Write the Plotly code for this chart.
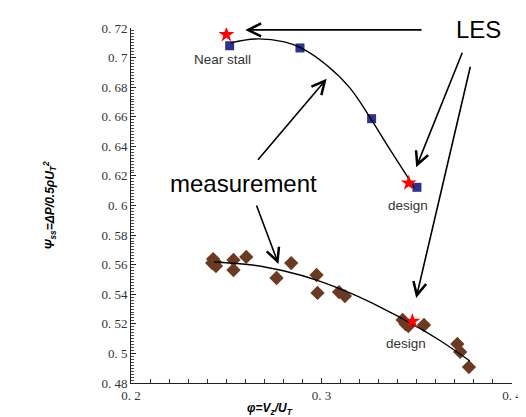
import plotly.graph_objects as go

# LES results (squares)
les_x = [0.2518, 0.2887, 0.3263, 0.3501]
les_y = [0.708, 0.7065, 0.6587, 0.6123]

# LES highlighted points (red stars)
star_x = [0.2501, 0.3458, 0.3477]
star_y = [0.7155, 0.6152, 0.5217]

# Measurement (diamonds)
meas_x = [0.2431, 0.2441, 0.2446, 0.2426, 0.2538, 0.2538, 0.2605, 0.2764, 0.2841, 0.2974,
          0.2979, 0.3092, 0.3123, 0.3426, 0.3441, 0.3456, 0.3538, 0.3713, 0.3728, 0.3774]
meas_y = [0.5638, 0.5618, 0.5591, 0.5611, 0.5632, 0.5564, 0.5652, 0.5510, 0.5611, 0.5530,
          0.5409, 0.5415, 0.5388, 0.5226, 0.5199, 0.5185, 0.5192, 0.5064, 0.5010, 0.4908]

# Trend curves
up_curve_x = [0.2523, 0.2651, 0.2805, 0.2892, 0.3026, 0.3149, 0.3256, 0.3354, 0.3462, 0.3487]
up_curve_y = [0.7099, 0.7126, 0.7106, 0.7065, 0.6950, 0.6795, 0.6592, 0.6389, 0.6173, 0.6118]
lo_curve_x = [0.2436, 0.2636, 0.2805, 0.2974, 0.3149, 0.3318, 0.3487, 0.3626, 0.3779]
lo_curve_y = [0.5618, 0.5598, 0.5557, 0.5496, 0.5409, 0.5307, 0.5192, 0.5084, 0.4949]

# Tick labels
y_ticks = [0.48, 0.50, 0.52, 0.54, 0.56, 0.58, 0.60, 0.62, 0.64, 0.66, 0.68, 0.70, 0.72]
y_tick_labels = ["0. 48", "0. 5", "0. 52", "0. 54", "0. 56", "0. 58", "0. 6", "0. 62",
                 "0. 64", "0. 66", "0. 68", "0. 7", "0. 72"]
x_ticks = [0.2, 0.3, 0.4]
x_tick_labels = ["0. 2", "0. 3", "0. 4"]

fig = go.Figure()
fig.add_trace(go.Scatter(x=meas_x, y=meas_y, mode="markers",
                         marker=dict(symbol="diamond", size=11, color="#6B3A22"),
                         showlegend=False))
fig.add_trace(go.Scatter(x=les_x, y=les_y, mode="markers",
                         marker=dict(symbol="square", size=9, color="#2E3192"),
                         showlegend=False))
fig.add_trace(go.Scatter(x=up_curve_x, y=up_curve_y, mode="lines", line_shape="spline",
                         line=dict(color="black", width=1.4), showlegend=False))
fig.add_trace(go.Scatter(x=lo_curve_x, y=lo_curve_y, mode="lines", line_shape="spline",
                         line=dict(color="black", width=1.4), showlegend=False))
fig.add_trace(go.Scatter(x=star_x, y=star_y, mode="markers",
                         marker=dict(symbol="star", size=12, color="#FF0000"),
                         showlegend=False))

arrows = [
    ((0.3533, 0.7187), (0.2600, 0.7187)),
    ((0.3742, 0.7043), (0.3497, 0.6258)),
    ((0.3783, 0.6948), (0.3497, 0.5375)),
    ((0.2660, 0.6299), (0.3027, 0.6857)),
    ((0.2656, 0.6010), (0.2774, 0.5605)),
]
for (tx, ty), (hx, hy) in arrows:
    fig.add_annotation(x=hx, y=hy, ax=tx, ay=ty, xref="x", yref="y", axref="x", ayref="y",
                       text="", showarrow=True, arrowhead=5, arrowsize=1.6,
                       arrowwidth=1.6, arrowcolor="black")

big = dict(family="Arial, Liberation Sans, sans-serif", size=24, color="black")
small = dict(family="Arial, Liberation Sans, sans-serif", size=13.5, color="#333333")
fig.add_annotation(x=0.3826, y=0.7187, text="LES", showarrow=False, font=big)
fig.add_annotation(x=0.2590, y=0.6152, text="measurement", showarrow=False, font=big)
fig.add_annotation(x=0.2480, y=0.6984, text="Near stall", showarrow=False, font=small)
fig.add_annotation(x=0.3456, y=0.5997, text="design", showarrow=False, font=small)
fig.add_annotation(x=0.3446, y=0.5070, text="design", showarrow=False, font=small)

title_font = dict(family="Arial, Liberation Sans, sans-serif", size=12, color="black")
fig.add_annotation(xref="paper", yref="paper", x=0, y=0.5, xshift=-93, textangle=-90,
                   text="<b><i>Ψ<sub>ss</sub>=ΔP/0.5ρU<sub>T</sub><sup>2</sup></i></b>",
                   showarrow=False, font=title_font)
fig.add_annotation(xref="paper", yref="paper", x=0.3, y=0, yshift=-36,
                   text="<b><i>φ=V<sub>z</sub>/U<sub>T</sub></i></b>",
                   showarrow=False, font=title_font)

tick_font = dict(family="Liberation Serif, DejaVu Serif, serif", size=13, color="#333333")
fig.update_xaxes(range=[0.2, 0.4], tickvals=x_ticks, ticktext=x_tick_labels,
                 showgrid=False, zeroline=False, showline=True, linecolor="#222222",
                 linewidth=1, ticks="inside", ticklen=5, tickcolor="#222222",
                 tickfont=tick_font,
                 minor=dict(dtick=0.01, ticks="inside", ticklen=4, tickcolor="#333333",
                            showgrid=False))
fig.update_yaxes(range=[0.48, 0.72], tickvals=y_ticks, ticktext=y_tick_labels,
                 showgrid=False, zeroline=False, showline=True, linecolor="#222222",
                 linewidth=1, ticks="inside", ticklen=5, tickcolor="#222222",
                 tickfont=tick_font,
                 minor=dict(dtick=0.002, ticks="inside", ticklen=3, tickcolor="#444444",
                            showgrid=False))
fig.update_layout(width=526, height=417, margin=dict(l=123, r=13, t=20, b=42),
                  plot_bgcolor="white", paper_bgcolor="white")
fig.write_html("out.html")
